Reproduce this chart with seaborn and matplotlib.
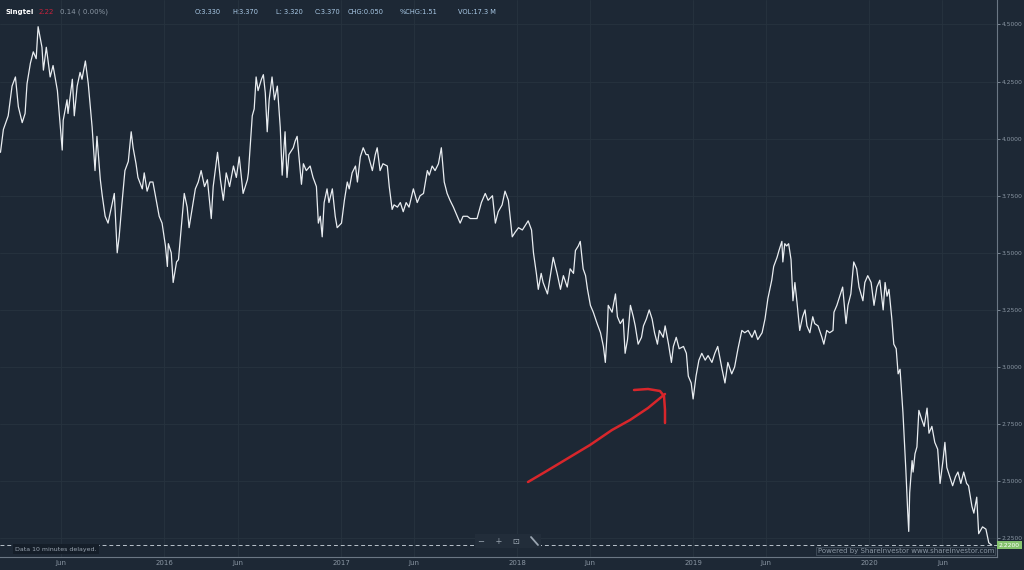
import pandas as pd
import matplotlib
matplotlib.use("Agg")
import matplotlib.pyplot as plt
import matplotlib.dates as mdates
from matplotlib.ticker import FixedLocator, FuncFormatter
import seaborn as sns

# --- DATA ---
dates_2015 = ["2015-01-26", "2015-02-01", "2015-02-11", "2015-02-19", "2015-02-26", "2015-03-04",
              "2015-03-12", "2015-03-18", "2015-03-22", "2015-03-29", "2015-04-04", "2015-04-10",
              "2015-04-14", "2015-04-22", "2015-04-25", "2015-05-01", "2015-05-09", "2015-05-15",
              "2015-05-24", "2015-06-03", "2015-06-05", "2015-06-13", "2015-06-15", "2015-06-24",
              "2015-06-28", "2015-07-04", "2015-07-10", "2015-07-14", "2015-07-21", "2015-07-27",
              "2015-08-04", "2015-08-10", "2015-08-14", "2015-08-21", "2015-08-25", "2015-08-31",
              "2015-09-06", "2015-09-15", "2015-09-19", "2015-09-25", "2015-09-29", "2015-10-05",
              "2015-10-11", "2015-10-18", "2015-10-24", "2015-10-28", "2015-11-03", "2015-11-07",
              "2015-11-16", "2015-11-20", "2015-11-26", "2015-12-02", "2015-12-08", "2015-12-15",
              "2015-12-21", "2015-12-27"]
price_2015 = [3.94, 4.04, 4.10, 4.23, 4.27, 4.14, 4.07, 4.11, 4.24, 4.33, 4.38, 4.35,
              4.49, 4.40, 4.30, 4.40, 4.27, 4.32, 4.21, 3.95, 4.08, 4.17, 4.11, 4.26,
              4.10, 4.23, 4.29, 4.26, 4.34, 4.24, 4.05, 3.86, 4.01, 3.82, 3.75, 3.66,
              3.63, 3.72, 3.76, 3.50, 3.57, 3.72, 3.86, 3.90, 4.03, 3.96, 3.89, 3.83,
              3.78, 3.85, 3.77, 3.81, 3.81, 3.73, 3.66, 3.63]

dates_2016 = ["2016-01-03", "2016-01-07", "2016-01-09", "2016-01-15", "2016-01-19", "2016-01-26",
              "2016-01-30", "2016-02-07", "2016-02-11", "2016-02-17", "2016-02-21", "2016-02-28",
              "2016-03-05", "2016-03-11", "2016-03-17", "2016-03-24", "2016-03-30", "2016-04-07",
              "2016-04-11", "2016-04-20", "2016-04-26", "2016-05-02", "2016-05-08", "2016-05-15",
              "2016-05-23", "2016-05-29", "2016-06-04", "2016-06-12", "2016-06-21", "2016-06-23",
              "2016-07-01", "2016-07-05", "2016-07-09", "2016-07-13", "2016-07-20", "2016-07-24",
              "2016-07-28", "2016-08-01", "2016-08-05", "2016-08-11", "2016-08-16", "2016-08-22",
              "2016-08-28", "2016-09-01", "2016-09-07", "2016-09-11", "2016-09-15", "2016-09-24",
              "2016-09-28", "2016-10-02", "2016-10-11", "2016-10-15", "2016-10-21", "2016-10-29",
              "2016-11-04", "2016-11-11", "2016-11-15", "2016-11-19", "2016-11-23", "2016-11-27",
              "2016-12-03", "2016-12-07", "2016-12-14", "2016-12-20", "2016-12-24"]
price_2016 = [3.53, 3.44, 3.54, 3.50, 3.37, 3.46, 3.47, 3.66, 3.76, 3.70, 3.61, 3.70,
              3.78, 3.81, 3.86, 3.79, 3.82, 3.65, 3.79, 3.94, 3.82, 3.73, 3.85, 3.79,
              3.88, 3.83, 3.92, 3.76, 3.82, 3.85, 4.10, 4.13, 4.27, 4.21, 4.26, 4.28,
              4.20, 4.03, 4.17, 4.27, 4.17, 4.23, 4.05, 3.84, 4.03, 3.83, 3.93, 3.96,
              3.99, 4.01, 3.80, 3.89, 3.86, 3.88, 3.83, 3.79, 3.63, 3.66, 3.57, 3.72,
              3.78, 3.72, 3.78, 3.66, 3.61]

dates_2017 = ["2017-01-02", "2017-01-08", "2017-01-14", "2017-01-18", "2017-01-24", "2017-01-31",
              "2017-02-04", "2017-02-10", "2017-02-16", "2017-02-22", "2017-02-26", "2017-03-07",
              "2017-03-13", "2017-03-17", "2017-03-23", "2017-03-29", "2017-04-07", "2017-04-11",
              "2017-04-17", "2017-04-21", "2017-04-28", "2017-05-04", "2017-05-10", "2017-05-16",
              "2017-05-22", "2017-05-31", "2017-06-08", "2017-06-14", "2017-06-21", "2017-06-29",
              "2017-07-03", "2017-07-09", "2017-07-15", "2017-07-22", "2017-07-28", "2017-08-03",
              "2017-08-09", "2017-08-15", "2017-08-22", "2017-08-30", "2017-09-05", "2017-09-11",
              "2017-09-20", "2017-09-26", "2017-10-02", "2017-10-10", "2017-10-19", "2017-10-27",
              "2017-11-02", "2017-11-11", "2017-11-17", "2017-11-23", "2017-12-01", "2017-12-07",
              "2017-12-14", "2017-12-22", "2017-12-28"]
price_2017 = [3.63, 3.73, 3.81, 3.78, 3.85, 3.88, 3.81, 3.92, 3.96, 3.93, 3.93, 3.86,
              3.93, 3.96, 3.86, 3.89, 3.88, 3.79, 3.69, 3.71, 3.70, 3.72, 3.68, 3.72,
              3.70, 3.78, 3.72, 3.75, 3.76, 3.86, 3.84, 3.88, 3.86, 3.89, 3.96, 3.81,
              3.76, 3.73, 3.70, 3.66, 3.63, 3.66, 3.66, 3.65, 3.65, 3.65, 3.72, 3.76,
              3.73, 3.75, 3.63, 3.68, 3.71, 3.77, 3.73, 3.57, 3.59]

dates_2018 = ["2018-01-04", "2018-01-12", "2018-01-18", "2018-01-24", "2018-01-31", "2018-02-04",
              "2018-02-10", "2018-02-14", "2018-02-20", "2018-02-24", "2018-03-05", "2018-03-11",
              "2018-03-17", "2018-03-25", "2018-04-01", "2018-04-07", "2018-04-15", "2018-04-21",
              "2018-04-28", "2018-05-02", "2018-05-08", "2018-05-12", "2018-05-18", "2018-05-23",
              "2018-05-27", "2018-06-02", "2018-06-08", "2018-06-16", "2018-06-23", "2018-06-29",
              "2018-07-03", "2018-07-07", "2018-07-09", "2018-07-17", "2018-07-24", "2018-07-28",
              "2018-08-03", "2018-08-09", "2018-08-13", "2018-08-18", "2018-08-24", "2018-08-30",
              "2018-09-03", "2018-09-09", "2018-09-16", "2018-09-20", "2018-09-26", "2018-10-02",
              "2018-10-08", "2018-10-13", "2018-10-19", "2018-10-23", "2018-10-31", "2018-11-04",
              "2018-11-11", "2018-11-17", "2018-11-21", "2018-11-27", "2018-12-03", "2018-12-12",
              "2018-12-18", "2018-12-22", "2018-12-28"]
price_2018 = [3.61, 3.60, 3.62, 3.64, 3.60, 3.50, 3.41, 3.34, 3.41, 3.37, 3.32, 3.40,
              3.48, 3.41, 3.34, 3.40, 3.35, 3.43, 3.41, 3.51, 3.53, 3.55, 3.43, 3.40,
              3.34, 3.27, 3.24, 3.19, 3.15, 3.09, 3.02, 3.16, 3.27, 3.24, 3.32, 3.22,
              3.19, 3.21, 3.06, 3.12, 3.27, 3.22, 3.18, 3.10, 3.13, 3.18, 3.21, 3.25,
              3.21, 3.15, 3.10, 3.16, 3.13, 3.18, 3.10, 3.02, 3.09, 3.13, 3.08, 3.09,
              3.06, 2.96, 2.93]

dates_2019 = ["2019-01-01", "2019-01-07", "2019-01-13", "2019-01-19", "2019-01-26", "2019-02-01",
              "2019-02-09", "2019-02-15", "2019-02-21", "2019-03-02", "2019-03-08", "2019-03-14",
              "2019-03-22", "2019-03-28", "2019-04-04", "2019-04-12", "2019-04-18", "2019-04-25",
              "2019-05-03", "2019-05-09", "2019-05-15", "2019-05-24", "2019-05-30", "2019-06-05",
              "2019-06-13", "2019-06-17", "2019-06-24", "2019-06-28", "2019-07-04", "2019-07-06",
              "2019-07-10", "2019-07-14", "2019-07-18", "2019-07-23", "2019-07-27", "2019-07-31",
              "2019-08-04", "2019-08-10", "2019-08-16", "2019-08-21", "2019-08-25", "2019-08-31",
              "2019-09-06", "2019-09-10", "2019-09-17", "2019-09-25", "2019-09-29", "2019-10-05",
              "2019-10-11", "2019-10-18", "2019-10-20", "2019-10-26", "2019-11-01", "2019-11-07",
              "2019-11-14", "2019-11-18", "2019-11-24", "2019-11-30", "2019-12-06", "2019-12-11",
              "2019-12-19", "2019-12-23", "2019-12-29"]
price_2019 = [2.86, 2.96, 3.03, 3.06, 3.03, 3.05, 3.02, 3.06, 3.09, 2.99, 2.93, 3.02,
              2.97, 3.00, 3.08, 3.16, 3.15, 3.16, 3.13, 3.16, 3.12, 3.15, 3.21, 3.30,
              3.38, 3.44, 3.48, 3.51, 3.55, 3.46, 3.54, 3.53, 3.54, 3.47, 3.29, 3.37,
              3.29, 3.16, 3.22, 3.25, 3.18, 3.15, 3.22, 3.19, 3.18, 3.13, 3.10, 3.16,
              3.15, 3.16, 3.24, 3.27, 3.31, 3.35, 3.19, 3.27, 3.32, 3.46, 3.43, 3.35,
              3.29, 3.37, 3.40]

dates_2020 = ["2020-01-05", "2020-01-11", "2020-01-17", "2020-01-23", "2020-01-30", "2020-02-03",
              "2020-02-07", "2020-02-11", "2020-02-17", "2020-02-21", "2020-02-26", "2020-03-01",
              "2020-03-05", "2020-03-09", "2020-03-11", "2020-03-17", "2020-03-21", "2020-03-23",
              "2020-03-25", "2020-03-30", "2020-04-01", "2020-04-05", "2020-04-09", "2020-04-13",
              "2020-04-19", "2020-04-24", "2020-04-30", "2020-05-04", "2020-05-10", "2020-05-16",
              "2020-05-22", "2020-05-27", "2020-06-02", "2020-06-06", "2020-06-10", "2020-06-16",
              "2020-06-22", "2020-06-28", "2020-07-03", "2020-07-09", "2020-07-15", "2020-07-21",
              "2020-07-25", "2020-08-01", "2020-08-05", "2020-08-11", "2020-08-15", "2020-08-23",
              "2020-08-30", "2020-09-05", "2020-09-11"]
price_2020 = [3.37, 3.27, 3.35, 3.38, 3.25, 3.37, 3.31, 3.34, 3.21, 3.10, 3.08, 2.97,
              2.99, 2.86, 2.80, 2.55, 2.36, 2.28, 2.45, 2.59, 2.54, 2.62, 2.65, 2.81,
              2.77, 2.74, 2.82, 2.71, 2.74, 2.67, 2.64, 2.49, 2.59, 2.67, 2.56, 2.52,
              2.48, 2.52, 2.54, 2.49, 2.54, 2.49, 2.48, 2.39, 2.36, 2.43, 2.27, 2.30,
              2.29, 2.23, 2.22]

last_price = 2.22
x_tick_dates = ["2015-06-01", "2016-01-01", "2016-06-01", "2017-01-01", "2017-06-01",
                "2018-01-01", "2018-06-01", "2019-01-01", "2019-06-01", "2020-01-01", "2020-06-01"]
x_tick_labels = ["Jun", "2016", "Jun", "2017", "Jun", "2018", "Jun", "2019", "Jun", "2020", "Jun"]
y_ticks = [2.25, 2.50, 2.75, 3.00, 3.25, 3.50, 3.75, 4.00, 4.25, 4.50]

header_quote = ["O:3.330", "H:3.370", "L: 3.320", "C:3.370", "CHG:0.050", "%CHG:1.51", "VOL:17.3 M"]

# --- STYLE ---
BG = "#1d2835"
GRID = "#27333f"
AXIS_TXT = "#8a96a3"

df = pd.DataFrame({
    "date": pd.to_datetime(dates_2015 + dates_2016 + dates_2017 + dates_2018 + dates_2019 + dates_2020),
    "price": price_2015 + price_2016 + price_2017 + price_2018 + price_2019 + price_2020,
})

sns.set_theme(style="dark", rc={"axes.facecolor": BG, "figure.facecolor": BG})
plt.rcParams["font.family"] = ["DejaVu Sans"]

fig = plt.figure(figsize=(10.24, 5.70), dpi=100)
ax = fig.add_axes([0.0, 13 / 570, 997 / 1024, 557 / 570])

sns.lineplot(data=df, x="date", y="price", ax=ax, color="#e9edf1", linewidth=0.9)

ax.set_xlim(pd.Timestamp("2015-01-25"), pd.Timestamp("2020-09-22"))
ax.set_ylim(2.168, 4.607)

# axes / ticks
ax.xaxis.set_major_locator(FixedLocator(mdates.date2num(pd.to_datetime(x_tick_dates))))
ax.set_xticklabels(x_tick_labels)
ax.yaxis.tick_right()
ax.set_yticks(y_ticks)
ax.yaxis.set_major_formatter(FuncFormatter(lambda v, p: f"{v:.4f}"))
ax.tick_params(axis="x", colors=AXIS_TXT, labelsize=5, length=2, width=0.6, pad=0.5, direction="out")
ax.tick_params(axis="y", colors=AXIS_TXT, labelsize=4.3, length=2, width=0.6, pad=1.2, direction="out")
ax.set_xlabel("")
ax.set_ylabel("")
ax.grid(True, color=GRID, linewidth=0.6)
for side in ["top", "left"]:
    ax.spines[side].set_visible(False)
for side in ["right", "bottom"]:
    ax.spines[side].set_color("#6b7784")
    ax.spines[side].set_linewidth(0.8)

# last price dashed line + tag
ax.axhline(last_price, color="#b9c2cb", linewidth=0.7, linestyle=(0, (4, 3)))
ax.text(1.002, last_price, "2.2200", transform=ax.get_yaxis_transform(), fontsize=4.3,
        color="white", va="center", ha="left",
        bbox=dict(boxstyle="square,pad=0.3", fc="#86c46f", ec="none"))

# header
fig.text(6 / 1024, 1 - 12 / 570, "Singtel", color="white", fontsize=5.0, fontweight="bold", va="center")
fig.text(39 / 1024, 1 - 12 / 570, "2.22", color="#c8213c", fontsize=5, va="center")
fig.text(60 / 1024, 1 - 12 / 570, "0.14 ( 0.00%)", color="#8a96a3", fontsize=5, va="center")
for xpos, label in zip([195, 232, 276, 315, 348, 400, 458], header_quote):
    fig.text(xpos / 1024, 1 - 12 / 570, label, color="#a9c9e6", fontsize=4.8, va="center")

# footer widgets
fig.text(15 / 1024, 1 - 549 / 570, "Data 10 minutes delayed.", color="#9aa5b1", fontsize=4.5, va="center",
         bbox=dict(boxstyle="square,pad=0.35", fc="#151e29", ec="none"))
fig.text(478 / 1024, 1 - 541 / 570, "−    +    ⊡       ", color="#9aa5b1", fontsize=6, va="center", ha="left",
         bbox=dict(boxstyle="square,pad=0.35", fc="#222d3a", ec="none"))


def px(xs, ys):
    return [x / 1024 for x in xs], [1 - y / 570 for y in ys]


# "resize" icon (no installed font has the glyph): a short diagonal stroke
ix, iy = px([531, 538], [537, 545])
fig.add_artist(plt.Line2D(ix, iy, color="#9aa5b1", linewidth=1.3, zorder=10))

# red hand-drawn arrow (annotation, figure pixels)
sx, sy = px([528, 545, 565, 590, 612, 630, 648, 665], [482, 472, 460, 445, 430, 420, 408, 394])
fig.add_artist(plt.Line2D(sx, sy, color="#d8262b", linewidth=1.8, solid_capstyle="round", zorder=10))
hx, hy = px([634, 648, 660, 664, 665, 665], [390, 389, 391, 396, 410, 423])
fig.add_artist(plt.Line2D(hx, hy, color="#d8262b", linewidth=1.8, solid_capstyle="round", zorder=10))

fig.text(994 / 1024, 1 - 551 / 570, "Powered by ShareInvestor www.shareinvestor.com", color="#8a96a3",
         fontsize=5, va="center", ha="right",
         bbox=dict(boxstyle="square,pad=0.2", fc=BG, ec="#4a5664", lw=0.5))

fig.savefig("out.png", dpi=100, facecolor=BG)
